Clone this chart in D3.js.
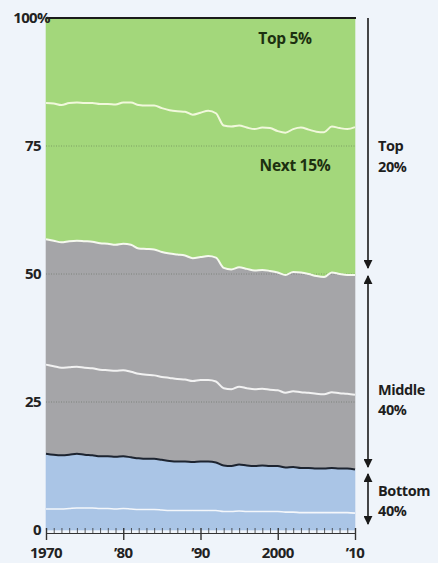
<!DOCTYPE html>
<html><head><meta charset="utf-8">
<script src="https://cdn.jsdelivr.net/npm/d3@7"></script>
<style>
html,body{margin:0;padding:0;background:#eff4fa;}
svg{display:block;font-family:"Open Sans","Roboto","Liberation Sans",sans-serif;}
</style></head><body>
<svg id="c" width="438" height="563"></svg>
<script>
const years = d3.range(1970, 2011);
// shares of household income (%)
const lowest = [4.1,4.1,4.1,4.2,4.3,4.3,4.3,4.2,4.2,4.1,4.2,4.1,4.0,4.0,4.0,3.9,3.8,3.8,3.8,3.8,3.8,3.8,3.8,3.6,3.6,3.7,3.6,3.6,3.6,3.6,3.6,3.5,3.5,3.4,3.4,3.4,3.4,3.4,3.4,3.4,3.3];
const second = [10.8,10.6,10.5,10.5,10.6,10.4,10.3,10.2,10.2,10.2,10.2,10.1,10.0,9.9,9.9,9.8,9.7,9.6,9.6,9.5,9.6,9.6,9.4,9.0,8.9,9.1,9.0,8.9,9.0,8.9,8.9,8.7,8.8,8.7,8.7,8.6,8.6,8.7,8.6,8.6,8.5];
const third = [17.4,17.3,17.1,17.1,17.0,17.0,17.0,16.9,16.8,16.8,16.8,16.7,16.5,16.4,16.3,16.2,16.2,16.1,16.0,15.8,15.9,15.9,15.8,15.1,15.0,15.2,15.1,15.0,15.0,14.9,14.8,14.6,14.8,14.8,14.7,14.6,14.5,14.8,14.7,14.6,14.6];
const fourth = [24.5,24.5,24.5,24.6,24.6,24.7,24.7,24.7,24.7,24.6,24.7,24.8,24.5,24.6,24.6,24.4,24.3,24.3,24.2,24.0,24.0,24.2,24.2,23.5,23.4,23.3,23.3,23.2,23.2,23.2,23.0,23.0,23.3,23.4,23.2,23.0,22.9,23.4,23.3,23.2,23.4];
const top5 = [16.6,16.7,17.0,16.6,16.5,16.6,16.6,16.8,16.8,16.9,16.5,16.5,17.0,17.1,17.1,17.6,18.0,18.2,18.3,18.9,18.5,18.1,18.6,21.0,21.2,21.0,21.4,21.7,21.4,21.5,22.1,22.4,21.7,21.4,21.8,22.2,22.3,21.2,21.5,21.7,21.3];
const yTicks = [0, 25, 50, 75, 100];
const yTickLabels = ["0", "25", "50", "75", "100%"];
const xMajor = [1970, 1980, 1990, 2000, 2010];
const xMajorLabels = ["1970", "\u201980", "\u201990", "2000", "\u201910"];

const svg = d3.select("#c");
const x = d3.scaleLinear().domain([1970, 2010]).range([46, 355]);
const y = d3.scaleLinear().domain([0, 100]).range([530, 18]);

const rows = years.map((yr, i) => ({
  year: yr, lowest: lowest[i], second: second[i], third: third[i], fourth: fourth[i],
  next15: 100 - lowest[i] - second[i] - third[i] - fourth[i] - top5[i], top5: top5[i]
}));
const keys = ["lowest", "second", "third", "fourth", "next15", "top5"];
const colors = {lowest:"#aac5e6", second:"#aac5e6", third:"#a5a5a8", fourth:"#a5a5a8", next15:"#a3d77b", top5:"#a3d77b"};
const stack = d3.stack().keys(keys)(rows);
const curve = d3.curveMonotoneX;

const area = d3.area().x(d => x(d.data.year)).y0(d => y(d[0])).y1(d => y(d[1])).curve(curve);
svg.append("g").selectAll("path").data(stack).join("path")
  .attr("d", area).attr("fill", d => colors[d.key]).attr("stroke", d => colors[d.key]).attr("stroke-width", 0.6);

// gridlines
svg.append("g").selectAll("line").data([25, 50, 75]).join("line")
  .attr("x1", 46).attr("x2", 355).attr("y1", d => y(d)).attr("y2", d => y(d))
  .attr("stroke", "#4a5a48").attr("stroke-opacity", 0.55).attr("stroke-width", 0.8)
  .attr("stroke-dasharray", "1,1.5");

// boundary lines
const line = d3.line().x(d => x(d.data.year)).y(d => y(d[1])).curve(curve);
const boundaries = [
  {key:"lowest", color:"#f4f7fb", w:1.6},
  {key:"second", color:"#1d2430", w:2},
  {key:"third", color:"#f2f2f2", w:2},
  {key:"fourth", color:"#f6f9ef", w:2},
  {key:"next15", color:"#f1f8dc", w:2}
];
boundaries.forEach(b => {
  const s = stack.find(s => s.key === b.key);
  svg.append("path").attr("d", line(s)).attr("fill", "none")
    .attr("stroke", b.color).attr("stroke-width", b.w).attr("stroke-linejoin", "round");
});

// top line at 100%
svg.append("line").attr("x1", 46).attr("x2", 356).attr("y1", y(100)).attr("y2", y(100))
  .attr("stroke", "#1a1a1a").attr("stroke-width", 2);

// y labels
svg.append("g").selectAll("text").data(yTicks).join("text")
  .attr("x", d => d === 100 ? 50 : 41).attr("y", d => y(d)).attr("dy", "0.36em")
  .attr("text-anchor", "end").attr("font-size", 15).attr("font-weight", 700).attr("fill", "#222")
  .attr("letter-spacing", "-0.6")
  .text((d, i) => yTickLabels[i]);

// x axis
const xAxis = d3.axisBottom(x).tickValues(years).tickSize(0).tickFormat("");
const gx = svg.append("g").attr("transform", "translate(0,533)").call(xAxis);
gx.select(".domain").attr("stroke", "#333").attr("stroke-width", 1.2);
gx.selectAll(".tick").append("line")
  .attr("y1", d => xMajor.includes(d) ? 7 : 0).attr("y2", -5)
  .attr("stroke", "#333").attr("stroke-width", d => xMajor.includes(d) ? 1.4 : 0.8);
svg.append("g").selectAll("text").data(xMajor).join("text")
  .attr("x", d => x(d)).attr("y", 558).attr("text-anchor", "middle")
  .attr("font-size", 15).attr("font-weight", 700).attr("fill", "#222").attr("letter-spacing", "-0.6")
  .text((d, i) => xMajorLabels[i]);

// in-chart labels
svg.append("text").attr("x", 285).attr("y", 44).attr("text-anchor", "middle")
  .attr("font-size", 15.5).attr("font-weight", 700).attr("fill", "#1c3010").attr("letter-spacing", "-0.3").text("Top 5%");
svg.append("text").attr("x", 295).attr("y", 171).attr("text-anchor", "middle")
  .attr("font-size", 15.5).attr("font-weight", 700).attr("fill", "#1c3010").attr("letter-spacing", "-0.3").text("Next 15%");

// right brackets
const defs = svg.append("defs");
defs.append("marker").attr("id", "ah").attr("viewBox", "0 0 10 10").attr("refX", 9).attr("refY", 5)
  .attr("markerWidth", 9).attr("markerHeight", 9).attr("orient", "auto-start-reverse")
  .attr("markerUnits", "userSpaceOnUse")
  .append("path").attr("d", "M0,0 L10,5 L0,10 Z").attr("fill", "#1a1a1a");
const ax = 368;
function arrow(y1, y2, startHead) {
  const l = svg.append("line").attr("x1", ax).attr("x2", ax).attr("y1", y1).attr("y2", y2)
    .attr("stroke", "#1a1a1a").attr("stroke-width", 1.6).attr("marker-end", "url(#ah)");
  if (startHead) l.attr("marker-start", "url(#ah)");
}
arrow(y(100), 268, false);
arrow(276, 467, true);
arrow(474, 524, true);

const lab = [
  {t:"Top", y:151}, {t:"20%", y:172},
  {t:"Middle", y:395}, {t:"40%", y:415},
  {t:"Bottom", y:496}, {t:"40%", y:516}
];
svg.append("g").selectAll("text").data(lab).join("text")
  .attr("x", 378).attr("y", d => d.y).attr("font-size", 14.5).attr("font-weight", 700)
  .attr("letter-spacing", "-0.4")
  .attr("fill", "#1e1e1e").text(d => d.t);
</script>
</body></html>
